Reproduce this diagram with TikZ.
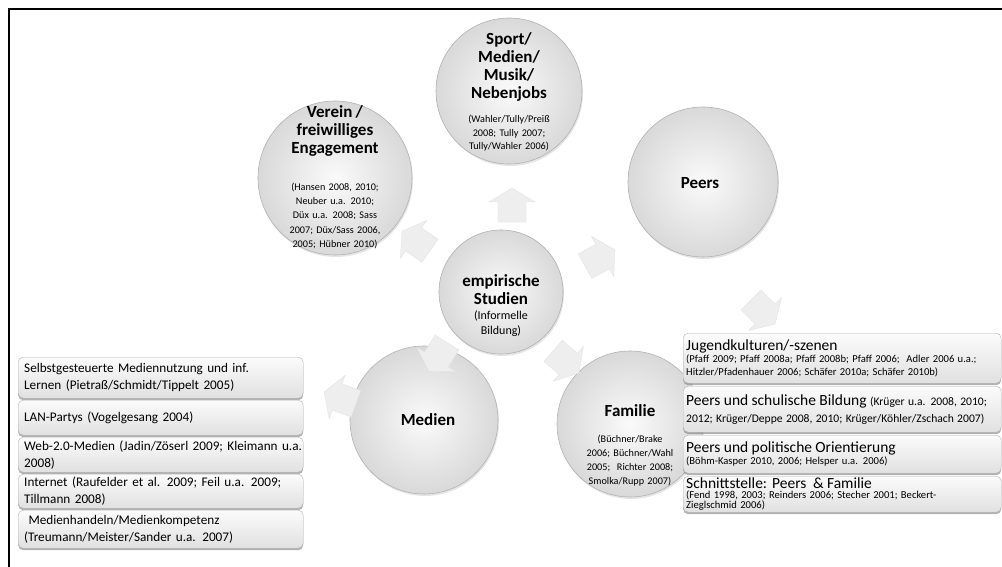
\documentclass[tikz,border=0pt]{standalone}
\usepackage{fontspec}
\setmainfont{Carlito}
\usetikzlibrary{shadows}
\newcommand\mytitle{\fontsize{17}{18}\selectfont\bfseries}
\newcommand\myref{\fontsize{10.2}{13.3}\selectfont}
\newcommand\rtitle{\fontsize{15.5}{16.5}\selectfont}
\newcommand\rref{\fontsize{10.6}{12.3}\selectfont}
\newcommand\rmid{\fontsize{11.6}{17}\selectfont}
\newcommand\lfont{\fontsize{13.2}{17}\selectfont}
\newcommand\bararrow[3]{%
  \fill[arrowfill,shift={(#1,#2)},rotate=#3] (-14,17) -- (14,17) -- (14,-3) -- (23,-3) -- (0,-17) -- (-23,-3) -- (-14,-3) -- cycle;}
\begin{document}
\begin{tikzpicture}[x=1pt,y=-1pt,
  circ/.style={circle,minimum size=146pt,inner sep=0pt,draw=gray!60,line width=0.6pt,
    inner color=gray!4,outer color=gray!30,
    drop shadow={opacity=0.2,shadow xshift=1pt,shadow yshift=-2pt}},
  ctext/.style={text width=130pt,align=center,inner sep=0pt},
  arrowfill/.style={fill=gray!13,draw=gray!22,line width=0.4pt},
  boxbase/.style={anchor=north west,draw=gray!60,rounded corners=5pt,
    top color=gray!3,bottom color=gray!24,align=left,inner xsep=3pt,inner ysep=1pt,
    drop shadow={opacity=0.6,shadow xshift=0pt,shadow yshift=-2pt}},
  rbox/.style={boxbase,text width=312pt,minimum width=318pt},
  lbox/.style={boxbase,inner xsep=6pt,text width=273pt,minimum width=285pt,font=\lfont},
]
\useasboundingbox (0,0) rectangle (1002,567);
\fill[white] (0,0) rectangle (1002,567);

% circles
\node[circ] (sport) at (509,91) {};
\node[circ,minimum size=154pt] (verein) at (335,178) {};
\node[circ,minimum size=150pt] (peers) at (703,182) {};
\node[circ,minimum size=124pt] (center) at (501,292) {};
\node[circ,minimum size=148pt] (medien) at (424,420) {};
\node[circ,minimum size=146pt] (familie) at (630,424) {};

\node[ctext] (sportt) at (509,92) {{\mytitle Sport/\\Medien/\\Musik/\\Nebenjobs\par}\vspace{11pt}{\myref (Wahler/Tully/Preiß\\2008; Tully 2007;\\Tully/Wahler 2006)\par}};
\node[ctext] (vereint) at (335,177) {{\mytitle Verein /\\freiwilliges\\Engagement\par}\vspace{23pt}{\myref\fontsize{10.2}{14.3}\selectfont (Hansen 2008, 2010;\\Neuber u.a. 2010;\\Düx u.a. 2008; Sass\\2007; Düx/Sass 2006,\\2005; Hübner 2010)\par}};
\node[ctext] (peerst) at (700,183) {\mytitle Peers};
\node[ctext] (centert) at (501,306) {{\mytitle empirische\\Studien\par}{\fontsize{12}{15}\selectfont (Informelle\\Bildung)\par}};
\node[ctext] (medient) at (428,420) {\mytitle Medien};
\node[ctext] (familiet) at (630,445) {{\mytitle Familie\par}\vspace{12pt}{\myref\fontsize{10.2}{14}\selectfont (Büchner/Brake\\2006; Büchner/Wahl\\2005;\ \ Richter 2008;\\Smolka/Rupp 2007)\par}};

% block arrows
\bararrow{512}{205}{0}
\bararrow{416}{241}{55}
\bararrow{600}{258}{-61}
\bararrow{438}{357}{148}
\bararrow{566}{362}{-131}
\bararrow{763}{312}{-135}
\bararrow{340}{398}{70}

% right boxes
\node[rbox,minimum height=50pt] (r1) at (683,333) {{\rtitle Jugendkulturen/-szenen\par}{\rref \mbox{(Pfaff 2009; Pfaff 2008a; Pfaff 2008b; Pfaff 2006;\ \ Adler 2006 u.a.;}\\\mbox{Hitzler/Pfadenhauer 2006; Schäfer 2010a; Schäfer 2010b)}\par}};
\node[rbox,minimum height=46pt] (r2) at (683,386) {\mbox{{\rtitle Peers und schulische Bildung} {\rmid (Krüger u.a. 2008, 2010;}}\\{\rmid \mbox{2012; Krüger/Deppe 2008, 2010; Krüger/Köhler/Zschach 2007)}\par}};
\node[rbox,minimum height=38pt] (r3) at (683,435) {{\rtitle Peers und politische Orientierung\par}{\rref (Böhm-Kasper 2010, 2006; Helsper u.a. 2006)\par}};
\node[rbox,minimum height=36pt] (r4) at (683,476) {{\rtitle Schnittstelle: Peers\ \ \& Familie\par}\vspace{1.5pt}{\rref\fontsize{10.6}{7.5}\selectfont \mbox{(Fend 1998, 2003; Reinders 2006; Stecher 2001; Beckert-}\\Zieglschmid 2006)\par}};

% left boxes
\node[lbox,minimum height=41pt] (l1) at (18,357) {\mbox{Selbstgesteuerte Mediennutzung und inf.}\\Lernen (Pietraß/Schmidt/Tippelt 2005)};
\node[lbox,minimum height=35pt] (l2) at (18,400) {LAN-Partys (Vogelgesang 2004)};
\node[lbox,minimum height=35pt] (l3) at (18,437) {\mbox{Web-2.0-Medien (Jadin/Zöserl 2009; Kleimann u.a.}\\2008)};
\node[lbox,minimum height=34pt] (l4) at (18,474) {\mbox{Internet (Raufelder et al. 2009; Feil u.a. 2009;}\\Tillmann 2008)};
\node[lbox,minimum height=38pt] (l5) at (18,510) {\ Medienhandeln/Medienkompetenz\\(Treumann/Meister/Sander u.a. 2007)};

% frame
\draw[line width=2.5pt] (8,9) -- (1003,9);
\draw[line width=2.5pt] (9,8) -- (9,568);
\end{tikzpicture}
\end{document}
